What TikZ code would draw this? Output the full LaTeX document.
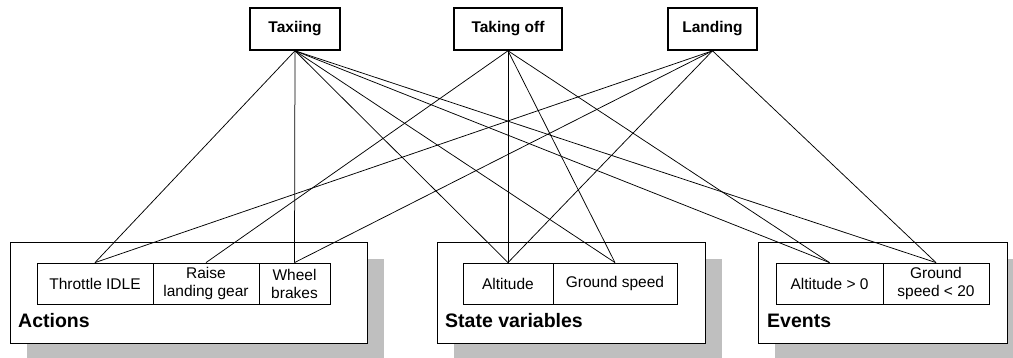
\documentclass[tikz,border=0pt]{standalone}
\usepackage{fontspec}
\setmainfont{Liberation Sans}
\begin{document}
\begin{tikzpicture}[x=1pt,y=-1pt,
  phase/.style={draw,line width=1.6pt,minimum height=42pt,inner sep=0pt,font=\fontsize{15.5}{18}\selectfont\bfseries},
  cell/.style={draw,line width=0.8pt,minimum height=41pt,inner sep=0pt,align=center,font=\fontsize{15.5}{18}\selectfont},
  group/.style={draw,fill=white,line width=0.8pt},
  shade/.style={fill=black!25},
  grouplabel/.style={anchor=base west,inner sep=0pt,font=\fontsize{19.5}{22}\selectfont\bfseries},
  link/.style={line width=0.75pt}]
\useasboundingbox (0,0) rectangle (1013,358);

\fill[shade] (27,259) rectangle (384,362);
\draw[group] (10,242) rectangle (367,343);
\fill[shade] (454,259) rectangle (722,362);
\draw[group] (437,242) rectangle (705,343);
\fill[shade] (775,259) rectangle (1024,362);
\draw[group] (758,242) rectangle (1007,343);

\node[grouplabel] (actlbl) at (18,328) {Actions};
\node[grouplabel] (statelbl) at (445,328) {State variables};
\node[grouplabel] (evlbl) at (767,328) {Events};

\node[cell,minimum width=116pt] (thr) at (95,283.5) {Throttle IDLE};
\node[cell,minimum width=106pt] (gear) at (206,283.5) {Raise\\landing gear};
\node[cell,minimum width=71pt] (wheel) at (294.5,283.5) {Wheel\\brakes};
\node[cell,minimum width=90pt] (alt) at (508,283.5) {Altitude};
\node[cell,minimum width=124pt] (gs) at (615,283.5) {Ground speed};
\node[cell,minimum width=107pt] (altz) at (829.5,283.5) {Altitude > 0};
\node[cell,minimum width=106pt] (gsz) at (936,283.5) {Ground\\speed < 20};

\node[phase,minimum width=90pt] (taxi) at (295,29) {Taxiing};
\node[phase,minimum width=108pt] (takeoff) at (508,29) {Taking off};
\node[phase,minimum width=89pt] (land) at (712.5,29) {Landing};

\foreach \c in {thr,wheel,alt,gs,altz,gsz}
  \draw[link] (taxi.south) -- (\c.north);
\foreach \c in {gear,alt,gs,altz}
  \draw[link] (takeoff.south) -- (\c.north);
\foreach \c in {thr,wheel,alt,gsz}
  \draw[link] (land.south) -- (\c.north);
\end{tikzpicture}
\end{document}
